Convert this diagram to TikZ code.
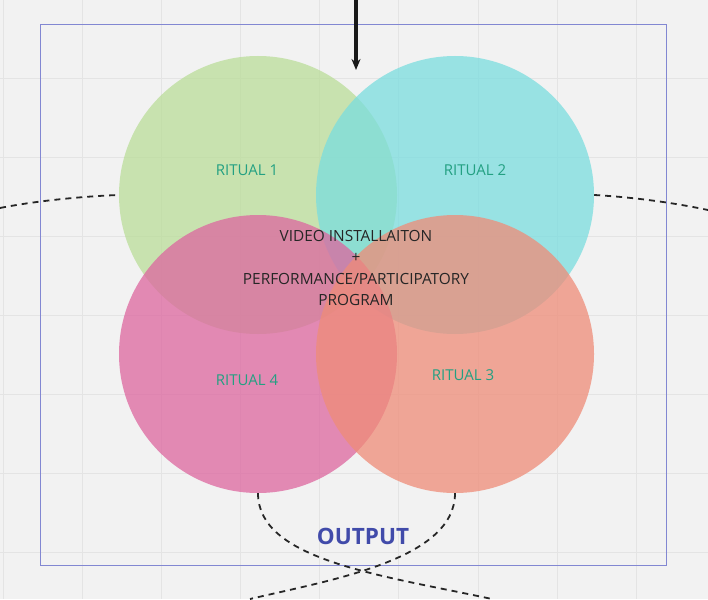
\documentclass[tikz,border=0pt]{standalone}
\usepackage{fontspec}
\setmainfont{Open Sans}
\usetikzlibrary{arrows.meta}
\definecolor{bgcol}{RGB}{242,242,242}
\definecolor{gridcol}{RGB}{228,228,228}
\definecolor{framecol}{RGB}{130,135,210}
\definecolor{ritgreen}{RGB}{186,221,153}
\definecolor{ritcyan}{RGB}{122,221,223}
\definecolor{ritpink}{RGB}{221,102,159}
\definecolor{ritsalmon}{RGB}{239,140,120}
\definecolor{labcol}{RGB}{35,160,130}
\definecolor{outcol}{RGB}{65,75,170}
\begin{document}
\begin{tikzpicture}[x=1pt, y=-1pt,
    ritual/.style={circle, minimum size=278pt, inner sep=0pt, fill opacity=0.75},
    lbl/.style={font=\fontsize{15}{17}\selectfont, text=labcol},
    dsh/.style={dash pattern=on 6pt off 5pt, line width=1.8pt, black!85},
  ]

  % Background and grid
  \fill[bgcol] (0,0) rectangle (708,599);
  \useasboundingbox (0,0) rectangle (708,599);
  \foreach \gx in {3,82,161,240,319,398,478,557,636}
    \draw[gridcol, thin] (\gx,0) -- (\gx,599);
  \foreach \gy in {78,157,236,315,394,473,552}
    \draw[gridcol, thin] (0,\gy) -- (708,\gy);

  % Frame
  \node[draw=framecol, minimum width=626pt, minimum height=541pt,
        inner sep=0pt] (frame) at (353,294.5) {};

  % Rituals
  \node[ritual, fill=ritgreen]  (r1) at (258,195) {};
  \node[ritual, fill=ritcyan]   (r2) at (455,195) {};
  \node[ritual, fill=ritpink]   (r4) at (258,354) {};
  \node[ritual, fill=ritsalmon] (r3) at (455,354) {};

  \node[lbl] (t1) at (247,170) {RITUAL 1};
  \node[lbl] (t2) at (475,170) {RITUAL 2};
  \node[lbl] (t3) at (463,375) {RITUAL 3};
  \node[lbl] (t4) at (247,380) {RITUAL 4};

  \node[align=center, font=\fontsize{15.4}{21.5}\selectfont, text=black!85]
    (core) at (356,268)
    {VIDEO INSTALLAITON\\+\\PERFORMANCE/PARTICIPATORY\\PROGRAM};

  \node[font=\bfseries\fontsize{22.5}{25}\selectfont, text=outcol]
    (out) at (363,536) {OUTPUT};

  % Input arrow
  \coordinate (in) at (356,0);
  \draw[-{Stealth[length=11pt,width=9pt]}, line width=3.2pt, black!90] (in) -- (356,70);

  % Dashed loops
  \coordinate (lw) at (0,208);
  \coordinate (le) at (708,210);
  \draw[dsh] (lw) .. controls (40,200) and (90,196) .. (r1.west);
  \draw[dsh] (r2.east) .. controls (630,197) and (670,202) .. (le);
  \coordinate (bl) at (250,599);
  \coordinate (br) at (492,599);
  \draw[dsh] (r4.south) .. controls (258,560) and (380,575) .. (br);
  \draw[dsh] (r3.south) .. controls (455,560) and (330,580) .. (bl);

\end{tikzpicture}
\end{document}
